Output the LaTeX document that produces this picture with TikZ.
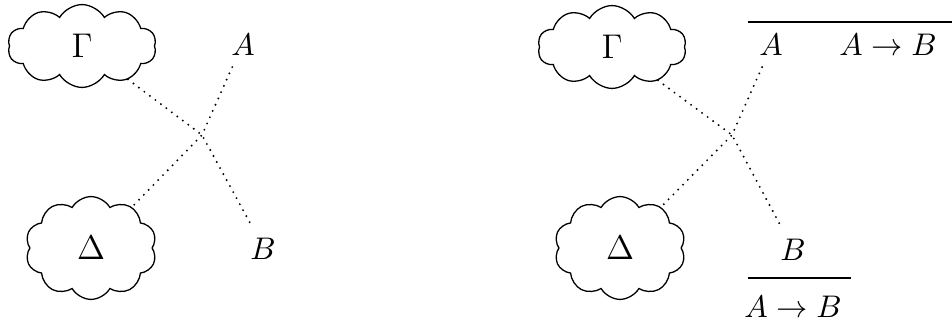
\documentclass[tikz,border=0pt]{standalone}
\usetikzlibrary{shapes.symbols}
\begin{document}
\begin{tikzpicture}[x=0.35pt,y=-0.35pt,
  ctx/.style={cloud, draw, cloud puffs=10, cloud puff arc=120, cloud ignores aspect, inner sep=0pt, line width=0.45pt, font=\fontsize{11.5}{13}\selectfont},
  fml/.style={inner sep=3.8pt, font=\fontsize{11}{13}\selectfont},
  dots/.style={line width=0.75pt, dash pattern=on 0pt off 2.4pt, line cap=round},
  rule/.style={line width=0.4pt}]
\useasboundingbox (0,0) rectangle (952,322);
% left panel
\node[ctx, minimum width=52pt, minimum height=29pt] (G1) at (82,46) {$\Gamma$};
\node[ctx, minimum width=46pt, minimum height=36pt] (D1) at (91,248) {$\Delta$};
\node[fml] (A1) at (243,45) {$A$};
\node[fml] (B1) at (263,249) {$B$};
\coordinate (X1) at (202,135);
\draw[dots] (G1.-36) -- (X1) -- (B1.116);
\draw[dots] (A1.-116) -- (X1) -- (D1.45);
% right panel
\node[ctx, minimum width=52pt, minimum height=29pt] (G2) at (612,47) {$\Gamma$};
\node[ctx, minimum width=46pt, minimum height=36pt] (D2) at (620,248) {$\Delta$};
\node[fml] (A2) at (771,45) {$A$};
\node[fml] (AB2) at (888,45) {$A\to B$};
\node[fml] (B2) at (793,250) {$B$};
\node[fml] (AB3) at (793,307) {$A\to B$};
\coordinate (X2) at (732,135);
\draw[dots] (G2.-36) -- (X2) -- (B2.117);
\draw[dots] (A2.-112) -- (X2) -- (D2.45);
\coordinate (t1) at (748,22);
\coordinate (t2) at (952,22);
\draw[rule] (t1) -- (t2);
\coordinate (u1) at (748,278);
\coordinate (u2) at (851,278);
\draw[rule] (u1) -- (u2);
\end{tikzpicture}
\end{document}
